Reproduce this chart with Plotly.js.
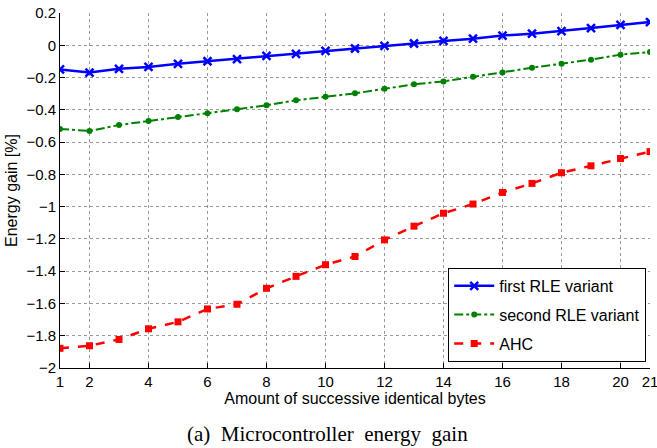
<!DOCTYPE html>
<html>
<head>
<meta charset="utf-8">
<script src="https://cdn.plot.ly/plotly-3.0.1.min.js"></script>
<style>html,body{margin:0;padding:0;background:#fff;}#chart{width:657px;height:448px;}</style>
</head>
<body>
<div id="chart"></div>
<script>
const xValues = [1,2,3,4,5,6,7,8,9,10,11,12,13,14,15,16,17,18,19,20,21];
const firstRLE = [-0.15,-0.169,-0.146,-0.134,-0.115,-0.099,-0.086,-0.066,-0.054,-0.035,-0.02,-0.003,0.011,0.027,0.041,0.06,0.072,0.088,0.107,0.126,0.144];
const secondRLE = [-0.519,-0.531,-0.494,-0.469,-0.444,-0.422,-0.397,-0.372,-0.341,-0.319,-0.298,-0.27,-0.242,-0.224,-0.195,-0.168,-0.139,-0.114,-0.089,-0.058,-0.042];
const ahc = [-1.878,-1.862,-1.823,-1.757,-1.714,-1.634,-1.605,-1.506,-1.432,-1.36,-1.309,-1.206,-1.121,-1.041,-0.984,-0.912,-0.856,-0.79,-0.747,-0.702,-0.659];
const xTicks = [1,2,4,6,8,10,12,14,16,18,20,21];
const seriesNames = ['first RLE variant','second RLE variant','AHC'];

const traces = [
  {x:xValues, y:firstRLE, name:seriesNames[0], legendgroup:'a', mode:'lines+markers',
   line:{color:'#0000ff', width:2.5, dash:'solid'},
   marker:{symbol:'x-thin-open', size:8, color:'#0000ff', line:{color:'#0000ff', width:2.5}}},
  {x:xValues, y:secondRLE, name:seriesNames[1], legendgroup:'b', mode:'lines+markers',
   line:{color:'#008000', width:2, dash:'dashdot'},
   marker:{symbol:'circle', size:6, color:'#008000'}},
  {x:xValues, y:ahc, name:seriesNames[2], legendgroup:'c', mode:'lines+markers',
   line:{color:'#ff0000', width:2.5, dash:'dash'},
   marker:{symbol:'square', size:7, color:'#ff0000'}}
];

const layout = {
  width:657, height:448,
  margin:{l:60, r:7, t:13, b:80},
  paper_bgcolor:'#fff', plot_bgcolor:'#fff',
  font:{family:'Liberation Sans, Arial, sans-serif', size:15, color:'#000'},
  showlegend:true,
  legend:{x:0.658, y:0.282, xanchor:'left', yanchor:'top',
          bordercolor:'#000', borderwidth:1, bgcolor:'#fff',
          font:{size:16}, traceorder:'grouped', tracegroupgap:5, itemwidth:40},
  xaxis:{range:[1,21], tickvals:xTicks, ticktext:xTicks.map(String),
         showgrid:true, gridcolor:'#999', griddash:'dot', gridwidth:1,
         showline:true, linecolor:'#000', linewidth:1, mirror:false,
         ticks:'inside', ticklen:5, tickcolor:'#000', zeroline:false,
         ticklabeloverflow:'allow', tickfont:{size:15},
         title:{text:'Amount of successive identical bytes', standoff:2, font:{size:16}}},
  yaxis:{range:[-2,0.2], dtick:0.2, tick0:0,
         showgrid:true, gridcolor:'#999', griddash:'dot', gridwidth:1,
         showline:true, linecolor:'#000', linewidth:1,
         ticks:'inside', ticklen:5, tickcolor:'#000', zeroline:false,
         tickfont:{size:15},
         title:{text:'Energy gain [%]', standoff:4, font:{size:16}}},
  annotations:[{text:'(a)  Microcontroller  energy  gain', xref:'paper', yref:'paper',
    x:0.454, y:-0.185, xanchor:'center', yanchor:'middle', showarrow:false,
    font:{family:'Liberation Serif, Times New Roman, serif', size:21, color:'#000'}}]
};

Plotly.newPlot('chart', traces, layout, {displayModeBar:false, staticPlot:true});
</script>
</body>
</html>
